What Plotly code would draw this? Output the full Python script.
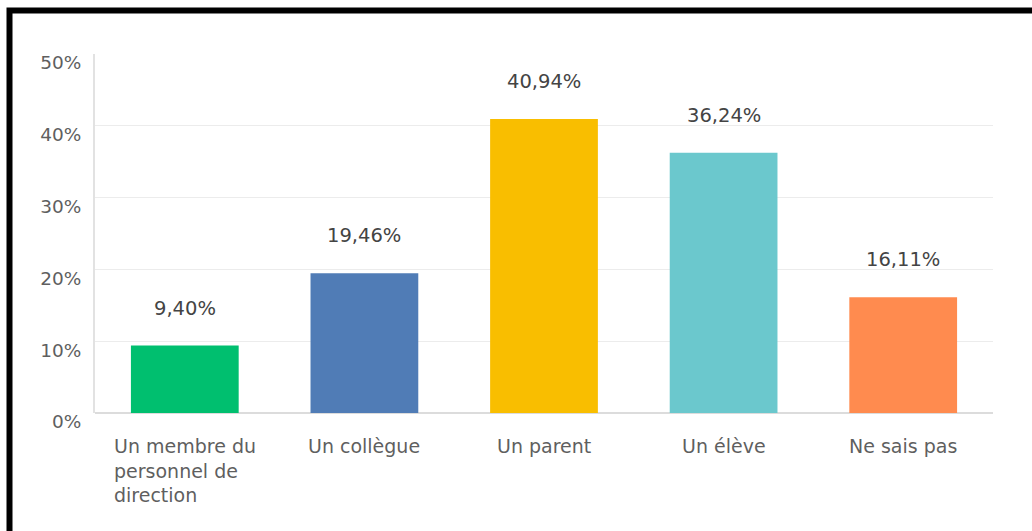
import plotly.graph_objects as go

# Survey answers and their shares (%)
categories = [
    "Un membre du<br>personnel de<br>direction",
    "Un collègue",
    "Un parent",
    "Un élève",
    "Ne sais pas",
]
values = [9.40, 19.46, 40.94, 36.24, 16.11]
bar_colors = ["#00BF6F", "#507CB6", "#F9BE00", "#6BC8CD", "#FF8B4F"]
y_ticks = [0, 10, 20, 30, 40, 50]
y_tick_labels = ["0%", "10%", "20%", "30%", "40%", "50%"]

FONT = "DejaVu Sans"
W, H = 1032, 531
L, R, T, B = 95, 39, 54, 118
plot_w = W - L - R
plot_h = H - T - B


def fr_pct(v):
    return f"{v:.2f}".replace(".", ",") + "%"


fig = go.Figure(
    go.Bar(
        x=list(range(len(categories))),
        y=values,
        marker=dict(color=bar_colors, line=dict(width=0)),
        hoverinfo="skip",
    )
)

annotations = []
# value labels above bars
for i, v in enumerate(values):
    annotations.append(dict(
        x=i, y=v, xref="x", yref="y", text=fr_pct(v), showarrow=False,
        xanchor="center", yanchor="bottom", yshift=24,
        font=dict(family=FONT, size=19.5, color="#444444"),
    ))
# category labels (left-aligned blocks centred under bars)
for i, c in enumerate(categories):
    annotations.append(dict(
        x=i, y=0, xref="x", yref="y", text=c, showarrow=False,
        xanchor="center", yanchor="top", yshift=-20, align="left",
        font=dict(family=FONT, size=19, color="#5f5f5f"),
    ))


def px_x(px):
    return (px - L) / plot_w


def px_y(py):
    return (H - B - py) / plot_h


# frame lines along the top and left edges
frame = dict(
    type="path", xref="paper", yref="paper",
    path=(f"M {px_x(9.5)} {px_y(545)} L {px_x(9.5)} {px_y(10.5)} "
          f"L {px_x(1045)} {px_y(10.5)}"),
    line=dict(color="#000000", width=6),
)

fig.update_layout(
    width=W, height=H,
    margin=dict(l=L, r=R, t=T, b=B, pad=0),
    paper_bgcolor="#ffffff", plot_bgcolor="#ffffff",
    bargap=0.4,
    showlegend=False,
    annotations=annotations,
    shapes=[frame],
    xaxis=dict(
        range=[-0.5, len(categories) - 0.5],
        showticklabels=False, showgrid=False, zeroline=False,
        showline=False, ticks="", fixedrange=True,
    ),
    yaxis=dict(
        range=[0, 50],
        tickvals=y_ticks, ticktext=y_tick_labels,
        ticks="", ticklabelposition="outside", ticklabelshift=9,
        ticklabelstandoff=8,
        tickfont=dict(family=FONT, size=18.5, color="#5f5f5f"),
        showgrid=True, gridcolor="#ececec", gridwidth=1,
        zeroline=True, zerolinecolor="#dcdcdc", zerolinewidth=2,
        showline=True, linecolor="#e2e2e2", linewidth=2,
        fixedrange=True,
    ),
)

fig.write_html("out.html")
